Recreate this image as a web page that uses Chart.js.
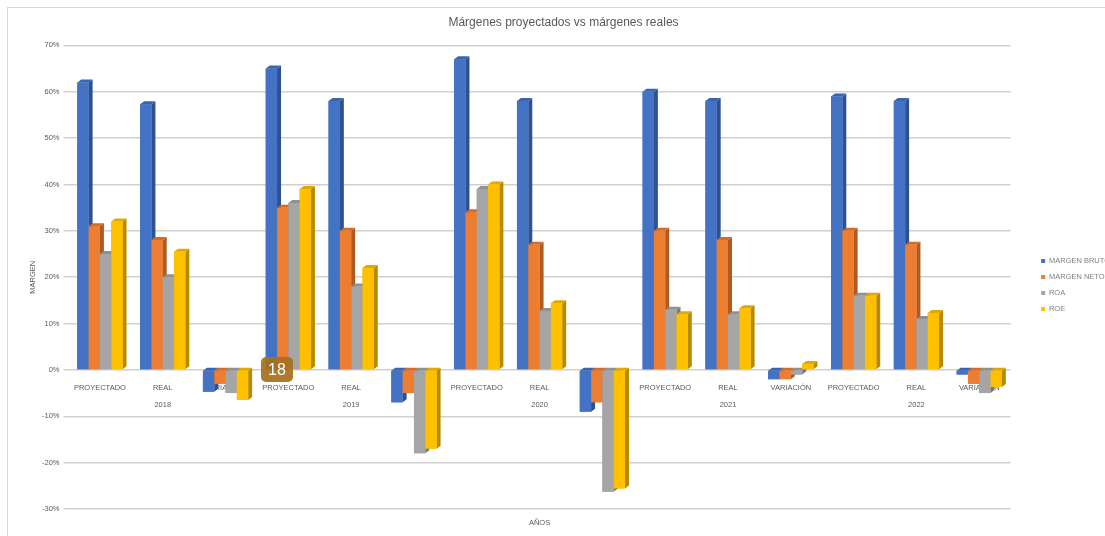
<!DOCTYPE html>
<html lang="es">
<head>
<meta charset="utf-8" />
<title>Márgenes proyectados vs márgenes reales</title>
<script src="https://cdn.jsdelivr.net/npm/chart.js@4.4.1/dist/chart.umd.min.js"></script>
<style>
    html, body { margin: 0; padding: 0; background: #fff; }
    #wrap { position: relative; width: 1105px; height: 536px; overflow: hidden; }
    #frame { position: absolute; left: 7px; top: 7px; width: 1110px; height: 540px;
             border-left: 1px solid #d9d9d9; border-top: 1px solid #d9d9d9; }
    #grafico { position: absolute; left: 0; top: 0; }
    .marca { position: absolute; left: 261px; top: 357px; width: 32px; height: 25px;
             background: rgba(165, 112, 30, 0.92); border-radius: 5px; color: #fff;
             font: 16px "Liberation Sans", Arial, sans-serif; line-height: 25px; text-align: center; }
</style>
</head>
<body>
<div id="wrap">
    <div id="frame"></div>
    <canvas id="grafico" width="1120" height="536"></canvas>
    <div class="marca">18</div>
</div>

<script>
    // categorias del eje (dos niveles: tipo y año)
    var tipos = ['PROYECTADO', 'REAL', 'VARIACIÓN'];
    var anios = ['2018', '2019', '2020', '2021', '2022'];

    // valores en %
    var margenBruto = [62, 57.3, -4.7, 65, 58, -7, 67, 58, -9, 60, 58, -2, 59, 58, -1];
    var margenNeto  = [31, 28, -3, 35, 30, -5, 34, 27, -7, 30, 28, -2, 30, 27, -3];
    var roa         = [25, 20, -5, 36, 18, -18, 39, 12.7, -26.3, 13, 12, -1, 16, 11, -5];
    var roe         = [32, 25.5, -6.5, 39, 22, -17, 40, 14.4, -25.6, 12, 13.3, 1.3, 16, 12.3, -3.7];

    var etiquetas = [];
    anios.forEach(function (a) {
        tipos.forEach(function (t, j) {
            etiquetas.push([t, j === 1 ? a : '']);
        });
    });

    var fuente = '"Liberation Sans", Arial, sans-serif';
    var gris = '#595959';

    // caras laterales y superiores para imitar el 3D de Excel
    var profundidad = {
        id: 'profundidad',
        afterDatasetsDraw: function (chart) {
            var ctx = chart.ctx, dx = 4, dy = 3;
            chart.data.datasets.forEach(function (ds, i) {
                var meta = chart.getDatasetMeta(i);
                meta.data.forEach(function (bar) {
                    var p = bar.getProps(['x', 'y', 'base', 'width'], true);
                    var l = p.x - p.width / 2, r = p.x + p.width / 2;
                    var t = Math.min(p.y, p.base), b = Math.max(p.y, p.base);
                    ctx.save();
                    ctx.fillStyle = ds.lado;
                    ctx.beginPath();
                    ctx.moveTo(r, t); ctx.lineTo(r + dx, t - dy);
                    ctx.lineTo(r + dx, b - dy); ctx.lineTo(r, b);
                    ctx.closePath(); ctx.fill();
                    ctx.fillStyle = ds.techo;
                    ctx.beginPath();
                    ctx.moveTo(l, t); ctx.lineTo(l + dx, t - dy);
                    ctx.lineTo(r + dx, t - dy); ctx.lineTo(r, t);
                    ctx.closePath(); ctx.fill();
                    ctx.restore();
                    bar.draw(ctx);
                });
            });
        }
    };

    new Chart(document.getElementById('grafico'), {
        type: 'bar',
        data: {
            labels: etiquetas,
            datasets: [
                { label: 'MARGEN BRUTO', data: margenBruto, backgroundColor: '#4472C4', lado: '#2E5190', techo: '#3A64B0' },
                { label: 'MARGEN NETO', data: margenNeto, backgroundColor: '#ED7D31', lado: '#AE5A20', techo: '#D46C26' },
                { label: 'ROA', data: roa, backgroundColor: '#A5A5A5', lado: '#787878', techo: '#909090' },
                { label: 'ROE', data: roe, backgroundColor: '#FFC000', lado: '#B88A00', techo: '#E0A900' }
            ]
        },
        options: {
            responsive: false,
            animation: false,
            categoryPercentage: 0.72,
            barPercentage: 1.0,
            layout: { padding: { left: 7, right: 0, top: 0, bottom: 7 } },
            plugins: {
                title: {
                    display: true,
                    text: 'Márgenes proyectados vs márgenes reales',
                    color: gris,
                    font: { family: fuente, size: 12, weight: 'normal' },
                    padding: { top: 15, bottom: 16 }
                },
                legend: {
                    position: 'right',
                    title: { display: true, text: ' ', font: { size: 1 }, padding: { top: 40, bottom: 0 } },
                    labels: {
                        boxWidth: 4, boxHeight: 4, padding: 8.5,
                        color: '#7f7f7f',
                        font: { family: fuente, size: 7.5 }
                    }
                },
                tooltip: { enabled: false }
            },
            scales: {
                x: {
                    position: { y: 0 },
                    grid: { display: false },
                    border: { display: false },
                    ticks: {
                        autoSkip: false, maxRotation: 0, padding: 2,
                        color: gris,
                        font: { family: fuente, size: 7.5, lineHeight: 2.2 }
                    }
                },
                x2: {
                    type: 'category',
                    position: 'bottom',
                    grid: { display: false },
                    border: { display: false },
                    ticks: { display: false },
                    title: {
                        display: true, text: 'AÑOS', color: gris,
                        font: { family: fuente, size: 7.5 },
                        padding: { top: 1, bottom: 2 }
                    }
                },
                y: {
                    min: -30, max: 70,
                    ticks: {
                        stepSize: 10, padding: 4, color: gris,
                        font: { family: fuente, size: 7.5 },
                        callback: function (v) { return v + '%'; }
                    },
                    grid: { color: '#d0d0d0', lineWidth: 1.5, tickLength: 5, tickColor: '#d0d0d0' },
                    border: { display: false },
                    title: {
                        display: true, text: 'MARGEN', color: gris,
                        font: { family: fuente, size: 7.5 },
                        padding: { top: 21, bottom: 1 }
                    }
                },
                // hueco entre el area de trazado y la leyenda
                hueco: {
                    type: 'linear',
                    position: 'right',
                    display: true,
                    grid: { display: false },
                    border: { display: false },
                    ticks: { display: false },
                    afterFit: function (s) { s.width = 22; }
                }
            }
        },
        plugins: [profundidad]
    });
</script>
</body>
</html>
